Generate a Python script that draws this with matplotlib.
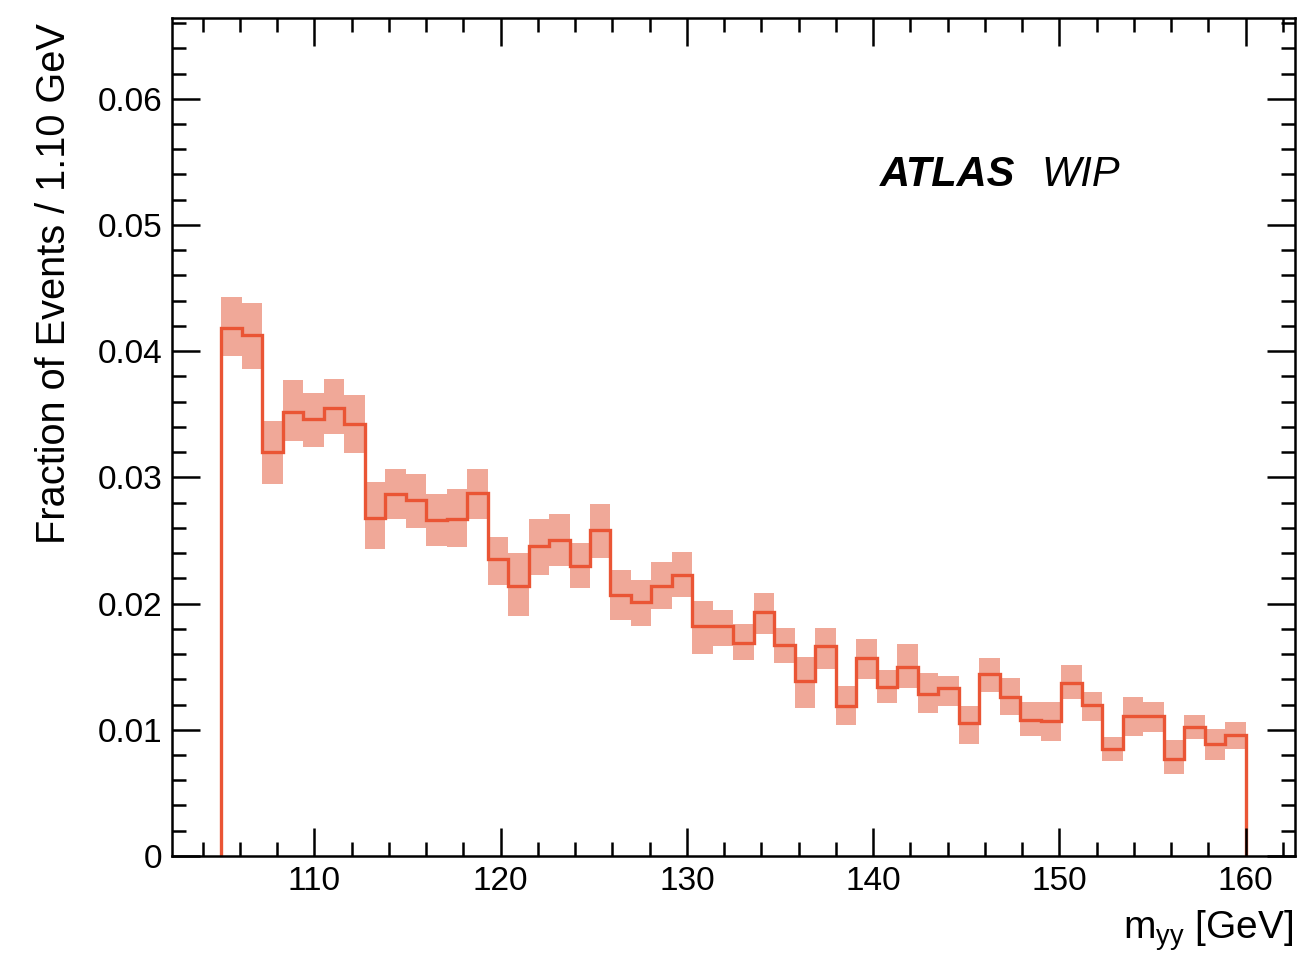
import matplotlib
matplotlib.use("Agg")
import matplotlib.pyplot as plt
import numpy as np
from matplotlib.ticker import MultipleLocator, FixedLocator

plt.rcParams['font.family'] = ['Liberation Sans', 'DejaVu Sans']
plt.rcParams['mathtext.fontset'] = 'custom'
plt.rcParams['mathtext.rm'] = 'Liberation Sans'
plt.rcParams['mathtext.it'] = 'Liberation Sans:italic'

# histogram: 50 bins of 1.1 GeV from 105 to 160
bin_lo, bin_hi, n_bins = 105.0, 160.0, 50
edges = np.linspace(bin_lo, bin_hi, n_bins + 1)

fraction = [0.0418, 0.0413, 0.0320, 0.0352, 0.0346, 0.0355, 0.0342, 0.0268, 0.0287, 0.0282,
            0.0266, 0.0267, 0.0288, 0.0235, 0.0214, 0.0246, 0.0250, 0.0230, 0.0258, 0.0207,
            0.0201, 0.0214, 0.0223, 0.0182, 0.0182, 0.0169, 0.0193, 0.0167, 0.0139, 0.0166,
            0.0119, 0.0157, 0.0134, 0.0150, 0.0128, 0.0133, 0.0105, 0.0144, 0.0126, 0.0108,
            0.0107, 0.0137, 0.0120, 0.0085, 0.0111, 0.0111, 0.0077, 0.0102, 0.0089, 0.0096]

band_high = [0.0443, 0.0438, 0.0345, 0.0377, 0.0367, 0.0378, 0.0365, 0.0296, 0.0307, 0.0303,
             0.0287, 0.0291, 0.0307, 0.0253, 0.0240, 0.0267, 0.0271, 0.0248, 0.0279, 0.0227,
             0.0219, 0.0233, 0.0241, 0.0202, 0.0195, 0.0184, 0.0208, 0.0181, 0.0158, 0.0181,
             0.0135, 0.0172, 0.0147, 0.0168, 0.0145, 0.0143, 0.0119, 0.0157, 0.0141, 0.0122,
             0.0122, 0.0151, 0.0130, 0.0094, 0.0126, 0.0122, 0.0092, 0.0112, 0.0101, 0.0106]

band_low = [0.0396, 0.0386, 0.0295, 0.0329, 0.0324, 0.0334, 0.0319, 0.0243, 0.0267, 0.0260,
            0.0246, 0.0245, 0.0267, 0.0215, 0.0190, 0.0223, 0.0230, 0.0212, 0.0236, 0.0187,
            0.0182, 0.0196, 0.0205, 0.0160, 0.0166, 0.0155, 0.0176, 0.0153, 0.0117, 0.0148,
            0.0104, 0.0140, 0.0121, 0.0133, 0.0113, 0.0119, 0.0089, 0.0130, 0.0112, 0.0095,
            0.0091, 0.0124, 0.0107, 0.0075, 0.0095, 0.0098, 0.0065, 0.0093, 0.0076, 0.0085]

x_ticks = [110, 120, 130, 140, 150, 160]
y_ticks = [0, 0.01, 0.02, 0.03, 0.04, 0.05, 0.06]
y_tick_labels = ["0", "0.01", "0.02", "0.03", "0.04", "0.05", "0.06"]

line_color = "#EA5535"
band_color = "#F0A898"

fig = plt.figure(figsize=(13.01, 9.58), dpi=100)
ax = fig.add_axes([0.1320, 0.1065, 0.8634, 0.8747])

ax.stairs(band_high, edges, baseline=band_low, fill=True, color=band_color, lw=0)
ax.stairs(fraction, edges, baseline=0, color=line_color, lw=2.4)

ax.set_xlim(102.345, 162.65)
ax.set_ylim(0, 0.0664)

ax.xaxis.set_major_locator(FixedLocator(x_ticks))
ax.xaxis.set_minor_locator(MultipleLocator(2))
ax.yaxis.set_major_locator(FixedLocator(y_ticks))
ax.yaxis.set_minor_locator(MultipleLocator(0.002))
ax.set_yticklabels(y_tick_labels)
ax.set_xticklabels([str(t) for t in x_ticks])

ax.tick_params(which='both', direction='in', top=True, right=True, width=1.8, labelsize=24)
ax.tick_params(which='major', length=20, pad=7)
ax.tick_params(which='minor', length=10)
for s in ax.spines.values():
    s.set_linewidth(1.8)

ax.set_ylabel("Fraction of Events / 1.10 GeV", fontsize=28.6, loc='top')
ax.yaxis.set_label_coords(-0.0875, 0.994)
ax.set_xlabel(r"m$_{\mathrm{yy}}$ [GeV]", fontsize=28, loc='right')
ax.xaxis.set_label_coords(0.9985, -0.062)

ax.text(0.6305, 0.8126, "ATLAS", transform=ax.transAxes, fontsize=30, fontweight='bold',
        style='italic', ha='left', va='center')
ax.text(0.7745, 0.8126, "WIP", transform=ax.transAxes, fontsize=30,
        style='italic', ha='left', va='center')

fig.savefig("out.png", dpi=100)
